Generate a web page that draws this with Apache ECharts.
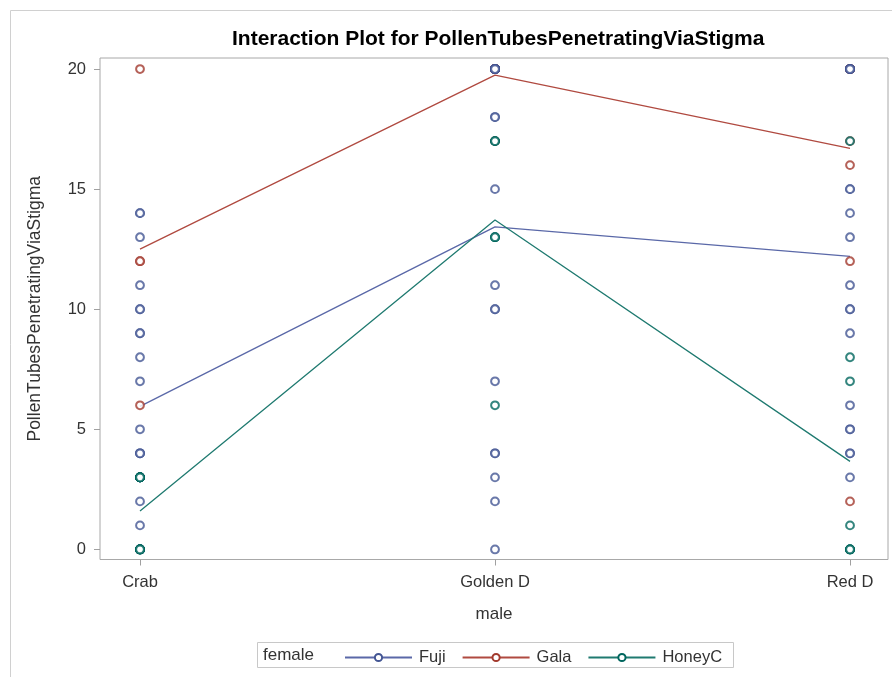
<!DOCTYPE html>
<html><head><meta charset="utf-8">
<script src="https://cdn.jsdelivr.net/npm/echarts@6/dist/echarts.min.js"></script>
<style>html,body{margin:0;padding:0;background:#fff}#c{width:892px;height:677px}</style>
</head><body><div id="c"></div>
<script>
// ---- data ----
const males = ['Crab', 'Golden D', 'Red D'];
const females = ['Fuji', 'Gala', 'HoneyC'];
const yTickValues = [0, 5, 10, 15, 20];

const fujiCrab   = [14,14,13,11,10,10,9,9,8,7,5,4,4,4,3,3,3,3,2,1,0,0,0];
const fujiGolden = [20,20,20,20,20,20,20,20,20,18,18,15,11,10,10,7,4,4,3,2,0];
const fujiRed    = [20,20,20,20,20,20,15,15,14,13,11,10,10,9,6,5,5,4,4,3];

const galaCrab   = [20,12,12,6];
const galaGolden = [20,20,20,20,20,20,20,20,20,20,20,17];
const galaRed    = [20,20,20,20,20,20,17,16,12,2];

const honeyCrab   = [0,0,0,0,0,0,0,3,3,3,3,3,3,3,3];
const honeyGolden = [17,17,17,13,13,13,6];
const honeyRed    = [17,8,7,1,0,0,0,0,0];

const markerColors = { Fuji: '#445694', Gala: '#A23A2E', HoneyC: '#01665E' };
const lineColors = { Fuji: '#5a68a8', Gala: '#b04a40', HoneyC: '#1f7a70' };
const groups = {
  Fuji: [fujiCrab, fujiGolden, fujiRed],
  Gala: [galaCrab, galaGolden, galaRed],
  HoneyC: [honeyCrab, honeyGolden, honeyRed]
};
const zOrder = { Gala: 3, Fuji: 4, HoneyC: 5 };

const FONT = '"Liberation Sans", Arial, sans-serif';
const mean = a => a.reduce((s, v) => s + v, 0) / a.length;

const series = [];
females.forEach(f => {
  series.push({
    name: f, type: 'line',
    data: groups[f].map((arr, i) => [i, mean(arr)]),
    symbol: 'emptyCircle', showSymbol: false, symbolSize: 6,
    lineStyle: { color: lineColors[f], width: 1.3 },
    itemStyle: { color: markerColors[f], borderWidth: 1.6 },
    z: 2, silent: true
  });
});
females.forEach(f => {
  const pts = [];
  groups[f].forEach((arr, i) => arr.forEach(v => pts.push([i, v])));
  series.push({
    name: f + ' obs', type: 'scatter', data: pts,
    symbol: 'emptyCircle', symbolSize: 7.8,
    itemStyle: { color: markerColors[f], borderColor: markerColors[f], borderWidth: 1.9 },
    z: zOrder[f], silent: true
  });
});

const chart = echarts.init(document.getElementById('c'), null, { renderer: 'canvas' });
chart.setOption({
  animation: false,
  backgroundColor: '#fff',
  title: {
    text: 'Interaction Plot for PollenTubesPenetratingViaStigma',
    left: 227, top: 24,
    textStyle: { fontFamily: FONT, fontSize: 21, fontWeight: 'bold', color: '#000' }
  },
  grid: { left: 100, right: 4, top: 58, bottom: 117.5, show: true, borderColor: '#a8a8a8', borderWidth: 1, backgroundColor: 'transparent' },
  xAxis: {
    type: 'value', min: -0.1127, max: 2.107,
    name: 'male', nameLocation: 'middle', nameGap: 46,
    nameTextStyle: { fontFamily: FONT, fontSize: 17, color: '#333' },
    axisLine: { show: false, onZero: false },
    splitLine: { show: false },
    axisTick: { show: true, length: 6, customValues: [0, 1, 2], lineStyle: { color: '#a0a0a0' } },
    axisLabel: { customValues: [0, 1, 2], margin: 14, formatter: v => males[Math.round(v)], fontFamily: FONT, fontSize: 16.5, color: '#333' }
  },
  yAxis: {
    type: 'value', min: -0.42, max: 20.46,
    name: 'PollenTubesPenetratingViaStigma', nameLocation: 'middle', nameGap: 56, nameRotate: 90,
    nameTextStyle: { fontFamily: FONT, fontSize: 17.5, color: '#333' },
    axisLine: { show: false, onZero: false },
    splitLine: { show: false },
    axisTick: { show: true, length: 6, customValues: yTickValues, lineStyle: { color: '#a0a0a0' } },
    axisLabel: { customValues: yTickValues, margin: 14, fontFamily: FONT, fontSize: 16.5, color: '#333' }
  },
  legend: {
    data: females, left: 339, top: 644, orient: 'horizontal',
    itemWidth: 67, itemHeight: 9, itemGap: 16,
    textStyle: { fontFamily: FONT, fontSize: 16.5, color: '#333', padding: [0, 0, 0, 2] },
    selectedMode: false
  },
  graphic: [
    { type: 'rect', shape: { x: 10.5, y: 10.5, width: 900, height: 700 }, style: { fill: 'none', stroke: '#d0d0d0', lineWidth: 1 }, silent: true, z: -10 },
    { type: 'rect', shape: { x: 257.5, y: 642.5, width: 476, height: 25 }, style: { fill: 'none', stroke: '#c8c8c8', lineWidth: 1 }, silent: true },
    { type: 'text', left: 263, top: 647, style: { text: 'female', fontFamily: FONT, fontSize: 17, fill: '#333' }, silent: true }
  ],
  series: series
});
</script>
</body></html>
